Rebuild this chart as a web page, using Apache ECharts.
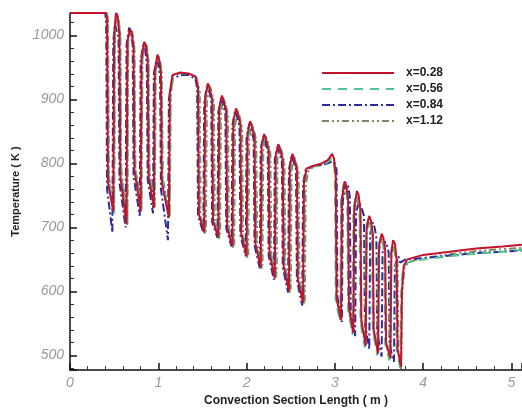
<!DOCTYPE html>
<html><head><meta charset="utf-8">
<script src="https://cdn.jsdelivr.net/npm/echarts@6/dist/echarts.min.js"></script>
<style>html,body{margin:0;padding:0;background:#fff}#c{width:522px;height:412px}</style>
</head><body><div id="c"></div>
<script>
var seriesNames = ['x=0.28', 'x=0.56', 'x=0.84', 'x=1.12'];
var xTickLabels = ['0', '1', '2', '3', '4', '5'];
var yTickLabels = ['500', '600', '700', '800', '900', '1000'];

var red028 = [[0,1035],[0.41,1035],[0.42,1020],[0.43,770],[0.49,725],[0.50,1000],[0.52,1035],[0.54,1030],
[0.56,1000],[0.57,780],[0.64,705],[0.65,990],[0.68,1010],[0.70,1004],
[0.72,980],[0.73,790],[0.80,725],[0.81,965],[0.84,990],[0.86,984],
[0.88,960],[0.89,780],[0.95,730],[0.96,945],[0.99,970],[1.01,962],
[1.03,940],[1.04,770],[1.12,715],[1.13,910],[1.16,938],[1.25,942],[1.35,940],[1.42,936],
[1.45,920],[1.46,720],[1.52,692],[1.53,900],[1.56,925],[1.58,918],
[1.61,900],[1.62,710],[1.68,684],[1.69,885],[1.72,906],[1.74,898],
[1.77,880],[1.78,700],[1.84,670],[1.85,865],[1.88,886],[1.90,878],
[1.93,860],[1.94,690],[2.00,655],[2.01,845],[2.04,866],[2.06,858],
[2.09,840],[2.10,675],[2.16,637],[2.17,828],[2.20,846],[2.22,838],
[2.25,820],[2.26,660],[2.32,620],[2.33,812],[2.36,830],[2.38,822],
[2.41,805],[2.42,640],[2.48,600],[2.49,796],[2.52,815],[2.54,806],
[2.57,790],[2.58,620],[2.64,582],[2.65,770],[2.68,792],[2.75,796],[2.85,800],[2.92,805],[2.97,815],[2.99,808],
[3.01,780],[3.02,590],[3.07,555],[3.08,745],[3.11,772],[3.13,765],
[3.15,745],[3.16,575],[3.21,535],[3.22,730],[3.25,757],[3.27,750],
[3.29,725],[3.30,555],[3.35,515],[3.36,700],[3.39,718],[3.41,710],
[3.43,690],[3.44,540],[3.49,503],[3.50,670],[3.53,690],[3.55,684],
[3.57,665],[3.58,520],[3.63,495],[3.64,660],[3.66,680],[3.68,675],
[3.70,650],[3.71,510],[3.75,482],[3.76,600],[3.78,640],[3.82,650],[4.0,657],[4.3,662],[4.6,667],[4.9,670],[5.12,673]];

var green056 = [[0,1035],[0.42,1035],[0.43,1020],[0.44,775],[0.50,720],[0.51,1005],[0.53,1035],[0.55,1030],
[0.57,1000],[0.58,785],[0.65,702],[0.66,992],[0.69,1008],[0.71,1002],
[0.73,978],[0.74,795],[0.81,722],[0.82,962],[0.85,988],[0.87,982],
[0.89,958],[0.90,785],[0.96,728],[0.97,942],[1.00,968],[1.02,960],
[1.04,938],[1.05,775],[1.13,712],[1.14,905],[1.17,936],[1.25,941],[1.35,940],[1.43,934],
[1.46,915],[1.47,722],[1.53,690],[1.54,898],[1.57,923],[1.59,916],
[1.62,898],[1.63,712],[1.69,682],[1.70,882],[1.73,904],[1.75,896],
[1.78,878],[1.79,702],[1.85,668],[1.86,862],[1.89,884],[1.91,876],
[1.94,858],[1.95,692],[2.01,652],[2.02,842],[2.05,864],[2.07,856],
[2.10,838],[2.11,678],[2.17,635],[2.18,825],[2.21,844],[2.23,836],
[2.26,818],[2.27,662],[2.33,617],[2.34,810],[2.37,828],[2.39,820],
[2.42,803],[2.43,642],[2.49,598],[2.50,794],[2.53,812],[2.55,804],
[2.58,788],[2.59,622],[2.65,580],[2.66,768],[2.69,790],[2.75,795],[2.85,798],[2.92,802],[2.96,808],[2.99,804],
[3.00,780],[3.01,585],[3.06,552],[3.07,742],[3.10,768],[3.12,762],
[3.14,742],[3.15,572],[3.20,532],[3.21,727],[3.24,752],[3.26,746],
[3.28,722],[3.29,552],[3.34,512],[3.35,697],[3.38,714],[3.40,706],
[3.42,688],[3.43,538],[3.48,500],[3.49,667],[3.52,686],[3.54,680],
[3.56,662],[3.57,518],[3.62,492],[3.63,655],[3.65,674],[3.67,668],
[3.69,648],[3.70,510],[3.74,480],[3.75,595],[3.77,635],[3.82,645],[4.0,650],[4.3,655],[4.6,659],[4.9,662],[5.12,665]];

var blue084 = [[0,1035],[0.40,1035],[0.41,1015],[0.42,760],[0.48,692],[0.49,990],[0.51,1018],[0.53,1020],
[0.55,995],[0.56,770],[0.63,700],[0.64,985],[0.67,1012],[0.69,1005],
[0.71,985],[0.72,780],[0.79,718],[0.80,960],[0.83,985],[0.85,980],
[0.87,955],[0.88,775],[0.94,722],[0.95,940],[0.98,962],[1.00,956],
[1.02,935],[1.03,760],[1.11,680],[1.12,900],[1.16,932],[1.25,938],[1.35,938],[1.42,932],
[1.44,918],[1.45,718],[1.51,692],[1.52,895],[1.55,920],[1.58,912],
[1.60,898],[1.61,708],[1.67,684],[1.68,880],[1.71,902],[1.73,894],
[1.76,878],[1.77,698],[1.83,670],[1.84,860],[1.87,882],[1.89,874],
[1.92,858],[1.93,688],[1.99,655],[2.00,840],[2.03,862],[2.05,854],
[2.08,838],[2.09,672],[2.15,636],[2.16,822],[2.19,842],[2.21,834],
[2.24,818],[2.25,656],[2.31,618],[2.32,806],[2.35,826],[2.37,818],
[2.40,803],[2.41,638],[2.47,598],[2.48,790],[2.51,812],[2.53,804],
[2.56,790],[2.57,618],[2.63,578],[2.64,768],[2.67,790],[2.75,795],[2.85,798],[2.92,800],[2.97,803],[3.00,800],
[3.02,790],[3.03,590],[3.08,552],[3.09,740],[3.12,770],[3.15,765],
[3.17,748],[3.18,570],[3.23,530],[3.24,722],[3.27,740],[3.30,732],
[3.33,718],[3.34,550],[3.39,510],[3.40,690],[3.43,708],[3.45,700],
[3.47,685],[3.48,535],[3.53,498],[3.54,660],[3.57,678],[3.59,672],
[3.61,660],[3.62,515],[3.67,490],[3.68,640],[3.72,655],[3.74,645],[3.76,648],[3.80,650],[4.0,652],[4.3,656],[4.6,660],[4.9,662],[5.12,664]];

var gray112 = [[0,1035],[0.42,1035],[0.43,1025],[0.44,780],[0.50,728],[0.51,1008],[0.53,1030],[0.55,1028],
[0.57,1002],[0.58,790],[0.65,708],[0.66,995],[0.69,1010],[0.71,1003],
[0.73,980],[0.74,795],[0.81,728],[0.82,965],[0.85,990],[0.87,983],
[0.89,960],[0.90,788],[0.96,732],[0.97,945],[1.00,968],[1.02,961],
[1.04,940],[1.05,778],[1.13,718],[1.14,908],[1.17,938],[1.25,941],[1.35,940],[1.43,935],
[1.47,912],[1.48,716],[1.54,694],[1.55,896],[1.58,921],[1.60,914],
[1.63,896],[1.64,706],[1.70,686],[1.71,880],[1.74,902],[1.76,894],
[1.79,876],[1.80,696],[1.86,672],[1.87,860],[1.90,882],[1.92,874],
[1.95,856],[1.96,686],[2.02,657],[2.03,840],[2.06,862],[2.08,854],
[2.11,836],[2.12,672],[2.18,640],[2.19,822],[2.22,842],[2.24,834],
[2.27,816],[2.28,656],[2.34,622],[2.35,806],[2.38,826],[2.40,818],
[2.43,801],[2.44,636],[2.50,603],[2.51,790],[2.54,810],[2.56,802],
[2.59,786],[2.60,616],[2.66,584],[2.67,766],[2.70,788],[2.75,794],[2.85,798],[2.92,801],[2.96,806],[2.99,803],
[3.01,785],[3.02,588],[3.07,557],[3.08,740],[3.11,766],[3.13,760],
[3.15,740],[3.16,570],[3.21,537],[3.22,724],[3.25,748],[3.27,742],
[3.29,720],[3.30,552],[3.35,517],[3.36,694],[3.39,710],[3.41,703],
[3.43,685],[3.44,536],[3.49,505],[3.50,664],[3.53,683],[3.55,677],
[3.57,660],[3.58,516],[3.63,497],[3.64,652],[3.66,670],[3.68,664],
[3.71,645],[3.72,505],[3.75,478],[3.76,590],[3.79,638],[3.84,646],[4.0,652],[4.3,658],[4.6,663],[4.9,666],[5.12,668]];

var seriesData = [red028, green056, blue084, gray112];
var colors = ['#c3142d', '#4cc48c', '#2b2b9c', '#7f8466'];
var dashes = ['solid', [9, 7], [8, 3, 2, 3], [7, 3, 2, 3, 2, 3]];

var chart = echarts.init(document.getElementById('c'), null, {renderer: 'canvas'});
var font = 'Liberation Sans, Arial, sans-serif';
chart.setOption({
  animation: false,
  grid: {left: 70, top: 13, right: 0, bottom: 36, containLabel: false},
  legend: {
    orient: 'vertical', left: 316, top: 62,
    itemWidth: 72, itemHeight: 12, itemGap: 4,
    data: seriesNames,
    itemStyle: {opacity: 0},
    textStyle: {fontFamily: font, fontWeight: 'bold', fontSize: 12, color: '#222', padding: [0, 0, 0, 7]}
  },
  xAxis: {
    type: 'value', min: 0, max: 5.12, interval: 1,
    name: 'Convection Section Length ( m )', nameLocation: 'middle', nameGap: 18,
    nameTextStyle: {fontFamily: font, fontWeight: 'bold', fontSize: 12, color: '#222'},
    axisLine: {lineStyle: {color: '#111', width: 1.5}},
    axisTick: {inside: true, length: 7, lineStyle: {color: '#111', width: 1.5}},
    minorTick: {show: true, splitNumber: 5, length: 4, lineStyle: {color: '#333'}},
    splitLine: {show: false},
    axisLabel: {
      showMaxLabel: false, margin: 6, fontFamily: font, fontStyle: 'italic', fontSize: 14, color: '#9a9a9a',
      formatter: function (v) { var i = Math.round(v); return (Math.abs(v - i) < 1e-6 && xTickLabels[i] !== undefined) ? xTickLabels[i] : ''; }
    }
  },
  yAxis: {
    type: 'value', min: 477, max: 1035, splitNumber: 5,
    name: 'Temperature ( K )', nameLocation: 'middle', nameGap: 36,
    nameTextStyle: {fontFamily: font, fontWeight: 'bold', fontSize: 11, color: '#222'},
    axisLine: {show: true, lineStyle: {color: '#111', width: 1.5}},
    axisTick: {show: true, inside: true, length: 7, lineStyle: {color: '#111', width: 1.5}},
    minorTick: {show: true, splitNumber: 5, length: 4, lineStyle: {color: '#333'}},
    splitLine: {show: false},
    axisLabel: {
      showMinLabel: false, showMaxLabel: false, margin: 6, fontFamily: font, fontStyle: 'italic', fontSize: 14, color: '#9a9a9a',
      formatter: function (v) { var s = String(Math.round(v)); return (Math.abs(v % 100) < 1e-6 && yTickLabels.indexOf(s) >= 0) ? s : ''; }
    }
  },
  series: seriesNames.map(function (n, i) {
    return {
      name: n, type: 'line', data: seriesData[i], symbol: 'none', clip: true,
      lineStyle: {color: colors[i], width: 2, type: dashes[i]},
      itemStyle: {color: colors[i]}, z: 4 - i
    };
  })
});
</script></body></html>
